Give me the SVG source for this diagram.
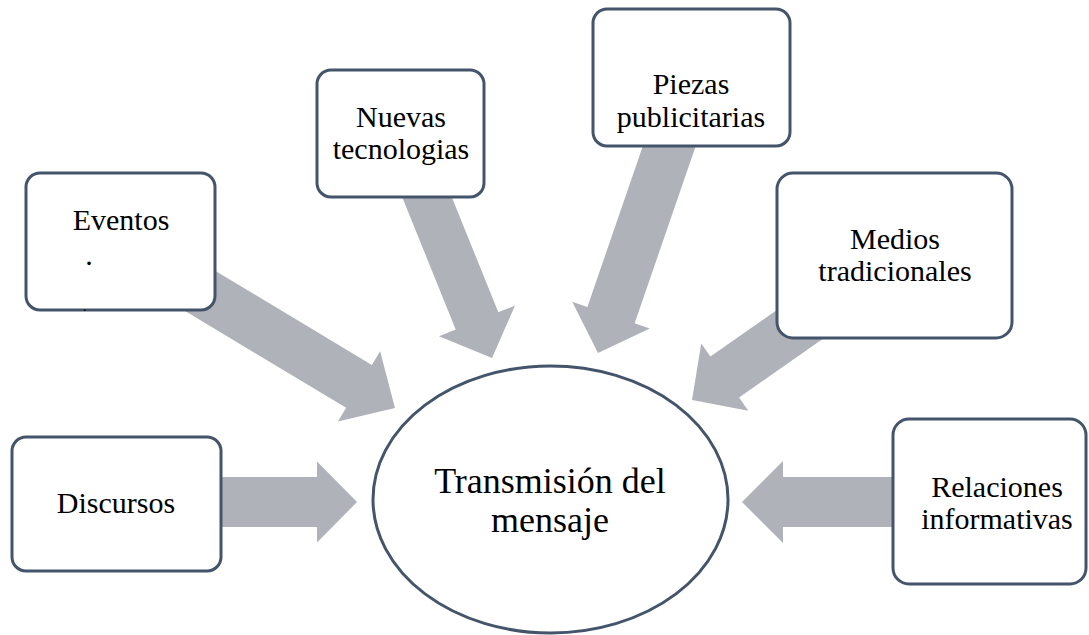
<svg xmlns="http://www.w3.org/2000/svg" width="1089" height="635" viewBox="0 0 1089 635">
<style>
.box{fill:#ffffff;stroke:#44546a;stroke-width:3}
.arrow{fill:#afb2b8}
.t{font-family:"Liberation Serif","Times New Roman",serif;font-size:30px;fill:#000;text-anchor:middle}
.tc{font-family:"Liberation Serif","Times New Roman",serif;font-size:36px;fill:#000;text-anchor:middle}
</style>
<rect width="1089" height="635" fill="#ffffff"/>
<g id="connectors">
<polygon class="arrow" points="0,0 -42,-41 -42,-25 -240,-25 -240,25 -42,25 -42,41" transform="translate(395,408) rotate(31)"/>
<polygon class="arrow" points="0,0 -40,-41 -40,-23 -190,-23 -190,23 -40,23 -40,41" transform="translate(492,358) rotate(68)"/>
<polygon class="arrow" points="0,0 -40,-41 -40,-25 -230,-25 -230,25 -40,25 -40,41" transform="translate(598,353) rotate(109)"/>
<polygon class="arrow" points="0,0 -40,-41 -40,-25 -155,-25 -155,25 -40,25 -40,41" transform="translate(692,400) rotate(145)"/>
<polygon class="arrow" points="0,0 -40,-40.5 -40,-25 -142,-25 -142,25 -40,25 -40,40.5" transform="translate(357,502)"/>
<polygon class="arrow" points="0,0 -41,-41 -41,-25 -158,-25 -158,25 -41,25 -41,41" transform="translate(742,502) rotate(180)"/>
</g>
<g id="center">
<ellipse class="box" cx="550.5" cy="499.5" rx="177.5" ry="133.5"/>
<text class="tc" x="550" y="493">Transmisión del</text>
<text class="tc" x="550" y="532">mensaje</text>
</g>
<g id="eventos">
<rect class="box" x="26" y="173" width="189" height="137" rx="14"/>
<text class="t" x="121" y="230">Eventos</text>
<text class="t" x="89" y="265">.</text>
<text x="83" y="311" font-family="Liberation Serif, serif" font-size="14" fill="#000">.</text>
</g>
<g id="nuevas">
<rect class="box" x="317" y="70" width="167" height="127" rx="14"/>
<text class="t" x="401" y="127">Nuevas</text>
<text class="t" x="401" y="159">tecnologias</text>
</g>
<g id="piezas">
<rect class="box" x="593" y="9" width="197" height="137" rx="14"/>
<text class="t" x="691" y="94">Piezas</text>
<text class="t" x="691" y="127">publicitarias</text>
</g>
<g id="medios">
<rect class="box" x="777" y="173" width="235" height="165" rx="16"/>
<text class="t" x="895" y="249">Medios</text>
<text class="t" x="895" y="281">tradicionales</text>
</g>
<g id="discursos">
<rect class="box" x="12" y="437" width="209" height="134" rx="14"/>
<text class="t" x="116" y="513">Discursos</text>
</g>
<g id="relaciones">
<rect class="box" x="893" y="419" width="193" height="165" rx="16"/>
<text class="t" x="997" y="497">Relaciones</text>
<text class="t" x="997" y="529">informativas</text>
</g>
</svg>
